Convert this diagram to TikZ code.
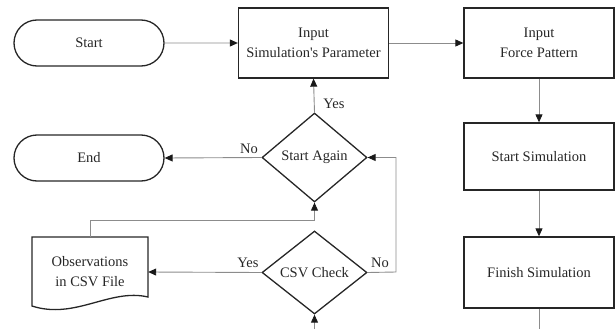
\documentclass[tikz,border=0pt]{standalone}
\usepackage{fontspec}
\setmainfont{Liberation Serif}[Ligatures=TeXOff]
\usetikzlibrary{shapes.geometric,shapes.misc,arrows.meta}
\begin{document}
\begin{tikzpicture}[x=1pt,y=-1pt,
  every node/.style={font=\fontsize{14.5}{20}\selectfont, text=black!85},
  termbox/.style={rounded rectangle, draw=black!85, line width=1.3pt, minimum width=150pt, minimum height=46pt, inner sep=0pt},
  procbox/.style={rectangle, draw=black!85, line width=1.3pt, minimum width=150pt, align=center, inner sep=0pt},
  decbox/.style={diamond, draw=black!85, line width=1.3pt, aspect=1.2, inner sep=0pt, minimum width=105pt},
  conn/.style={draw=black!45, line width=0.9pt},
  arr/.style={conn, -{Triangle[length=8pt,width=7pt,black!90]}},
  lbl/.style={inner sep=1pt}
]
\useasboundingbox (0,0) rectangle (615,329);

\node[termbox] (start) at (89,43) {Start};
\node[termbox] (end) at (89,158) {End};
\node[procbox, minimum height=70pt] (sim) at (313.5,43) {Input\\Simulation's Parameter};
\node[procbox, minimum height=70pt] (force) at (539,43) {Input\\Force Pattern};
\node[procbox, minimum height=67pt] (startsim) at (539,156.5) {Start Simulation};
\node[procbox, minimum height=71pt] (finish) at (539,272.5) {Finish Simulation};
\node[decbox, minimum height=89pt] (again) at (314.5,157.5) {Start Again};
\node[decbox, minimum height=83pt] (csv) at (314.5,272.5) {CSV Check};

% document shape
\node[minimum width=116pt, minimum height=70pt, inner sep=0pt, align=center] (doc) at (90,272) {Observations\\in CSV File};
\draw[draw=black!85, line width=1.3pt] (32,237) -- (148,237) -- (148,297)
  .. controls (110,288) and (75,320) .. (32,306) -- cycle;

\coordinate (finout) at (539,329);
\coordinate (csvin) at (314.5,329);
\coordinate (noturn) at (396,272);
\coordinate (docturn) at (90,220);

\draw[arr] (start) -- (sim);
\draw[arr] (sim) -- (force);
\draw[arr] (force) -- (startsim);
\draw[arr] (startsim) -- (finish);
\draw[conn] (finish) -- (finout);
\draw[arr] (csvin) -- (csv.south);
\draw[arr] (csv.west) -- (doc.east);
\draw[arr] (csv.east) -- (noturn) |- (again.east);
\draw[arr] (doc.north) -- (docturn) -| (again.south);
\draw[arr] (again.west) -- (end.east);
\draw[arr] (again.north) -- (sim.south);

\node[lbl] (lyes1) at (248,263) {Yes};
\node[lbl] (lno1) at (380,263) {No};
\node[lbl] (lno2) at (249,149) {No};
\node[lbl] (lyes2) at (334,104) {Yes};
\end{tikzpicture}
\end{document}
